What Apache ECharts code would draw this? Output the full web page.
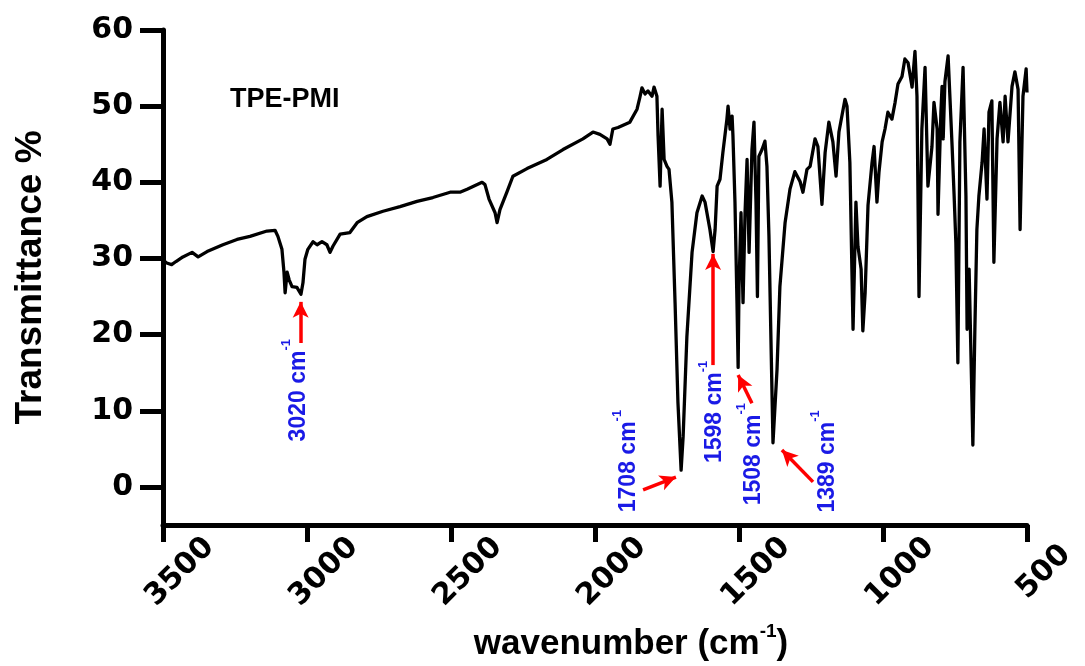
<!DOCTYPE html>
<html><head><meta charset="utf-8">
<script src="https://cdn.jsdelivr.net/npm/echarts@6/dist/echarts.min.js"></script>
<style>html,body{margin:0;padding:0;background:#fff}#c{width:1085px;height:666px}</style>
</head><body><div id="c"></div>
<script>
// FTIR spectrum of TPE-PMI
const wavenumbers = [3500,3487,3470,3455,3431,3399,3378,3347,3292,3243,3198,3139,3111,3101,3087,3080,3076,3069,3062,3052,3035,3021,3014,3007,2997,2979,2965,2948,2931,2920,2910,2885,2851,2826,2792,2736,2677,2618,2563,2503,2469,2444,2392,2382,2368,2347,2340,2330,2306,2285,2236,2167,2111,2042,2007,1983,1958,1948,1938,1920,1879,1854,1844,1837,1826,1816,1802,1795,1785,1781,1774,1767,1760,1750,1743,1733,1722,1712,1701,1694,1681,1663,1646,1628,1618,1601,1590,1583,1576,1566,1556,1542,1538,1531,1524,1521,1514,1507,1503,1500,1493,1486,1479,1472,1465,1455,1448,1441,1436,1431,1420,1410,1403,1396,1387,1382,1368,1358,1340,1323,1306,1288,1278,1264,1253,1236,1226,1212,1201,1188,1174,1163,1153,1132,1125,1115,1108,1104,1094,1087,1076,1070,1062,1052,1038,1031,1021,1014,1003,993,983,969,958,948,934,924,913,899,889,882,875,865,854,844,830,823,812,809,799,795,791,785,774,760,753,747,740,733,722,712,708,701,691,688,681,674,667,656,649,639,632,622,615,604,594,583,576,566,552,542,531,524,514,503,500];
const transmittance = [29.8,29.4,29.2,29.6,30.2,30.8,30.2,30.9,31.8,32.5,32.9,33.6,33.7,32.9,31.2,28.2,25.5,28.2,27.2,26.3,26.2,25.3,26.8,29.9,31.2,32.2,31.8,32.2,31.8,30.8,31.6,33.2,33.4,34.7,35.5,36.2,36.8,37.5,38.0,38.7,38.7,39.1,40.0,39.7,37.8,36.0,34.7,36.4,38.7,40.8,41.8,43.0,44.3,45.7,46.6,46.3,45.7,45.0,47.0,47.2,47.9,49.6,51.2,52.4,51.6,52.0,51.3,52.5,51.3,46.1,39.5,49.6,43.0,42.1,41.7,37.4,24.2,11.1,2.2,6.6,19.7,30.8,36.0,38.2,37.4,33.8,30.9,33.8,39.5,40.4,43.9,48.3,50.0,47.0,48.7,46.1,37.4,24.2,15.7,26.3,36.0,24.2,36.0,43.0,30.8,44.3,47.9,37.4,25.0,43.4,44.3,45.4,42.1,32.9,15.4,5.8,15.4,26.3,34.7,39.1,41.4,40.1,38.7,41.7,42.1,45.7,44.7,37.1,43.9,47.9,45.3,40.8,46.6,50.9,50.0,42.6,28.6,20.7,37.4,31.6,28.6,20.5,25.5,37.0,42.6,44.7,37.4,41.3,45.3,47.0,49.2,48.3,50.5,52.9,53.9,56.2,55.7,52.5,57.2,51.3,25.0,47.0,55.1,39.5,44.7,50.5,47.0,35.8,49.2,52.6,45.7,53.2,56.6,44.7,38.2,32.1,16.3,45.3,55.1,38.2,20.7,28.6,11.1,5.5,20.7,33.8,38.2,42.6,47.0,37.8,49.2,50.7,29.5,45.7,50.5,45.3,51.3,45.3,52.6,54.5,52.2,33.8,51.3,54.9,51.8];

const xTicks = [3500, 3000, 2500, 2000, 1500, 1000, 500];
const yTicks = [0, 10, 20, 30, 40, 50, 60];

const sampleName = 'TPE-PMI';
const peakLabels = ['3020', '1708', '1598', '1508', '1389'];
// label centre positions [wavenumber, transmittance]
const peakLabelPos = [[3042, 12.7], [1894, 3.4], [1595, 9.85], [1462, 4.3], [1205, 3.35]];
// arrows: [start, end] in data coordinates
const peakArrows = [
  [[3022, 18.9], [3022, 24.3]],
  [[1833, -0.4], [1719, 1.3]],
  [[1590, 16.0], [1590, 30.6]],
  [[1455, 11.0], [1503, 14.7]],
  [[1243, 0.66], [1351, 4.86]]
];

const chart = echarts.init(document.getElementById('c'), null, { renderer: 'canvas' });
const data = wavenumbers.map((w, i) => [w, transmittance[i]]);
const tickFont = { fontFamily: 'DejaVu Sans', fontWeight: 'bold', fontSize: 30, color: '#000', formatter: v => String(v) };

chart.setOption({
  animation: false,
  backgroundColor: '#fff',
  grid: { left: 163, right: 58, top: 30, bottom: 141, containLabel: false, outerBoundsMode: 'none' },
  xAxis: {
    type: 'value', min: 500, max: 3500, interval: 500, inverse: true,
    axisLine: { show: true, onZero: false, lineStyle: { color: '#000', width: 5 } },
    axisTick: { show: true, length: 17, customValues: xTicks, lineStyle: { color: '#000', width: 5 } },
    splitLine: { show: false },
    axisLabel: Object.assign({ customValues: xTicks, rotate: 45, align: 'center', verticalAlign: 'middle', margin: 64,
      padding: [0, 0, 0, 48], showMinLabel: true, showMaxLabel: true }, tickFont),
    name: '{a|wavenumber (cm}{s|-1}{a|)}', nameLocation: 'middle', nameGap: 97,
    nameTextStyle: {
      padding: [0, 0, 0, 72],
      rich: {
        a: { fontFamily: 'Liberation Sans', fontWeight: 'bold', fontSize: 35, lineHeight: 40, verticalAlign: 'bottom', color: '#000' },
        s: { fontFamily: 'Liberation Sans', fontWeight: 'bold', fontSize: 19, verticalAlign: 'top', color: '#000' }
      }
    }
  },
  yAxis: {
    type: 'value', min: -5, max: 60,
    axisLine: { show: true, onZero: false, lineStyle: { color: '#000', width: 5 } },
    axisTick: { show: true, length: 23, customValues: yTicks, lineStyle: { color: '#000', width: 5 } },
    splitLine: { show: false },
    axisLabel: Object.assign({ customValues: yTicks, margin: 30 }, tickFont),
    name: 'Transmittance %', nameLocation: 'middle', nameGap: 114,
    nameTextStyle: { fontFamily: 'Liberation Sans', fontWeight: 'bold', fontSize: 37, color: '#000' }
  },
  series: [{
    type: 'line', data: data, symbol: 'none', showSymbol: false, smooth: false,
    lineStyle: { color: '#000', width: 3.3, join: 'round' },
    markLine: {
      silent: true, animation: false,
      symbol: ['none', 'arrow'], symbolSize: [12, 16],
      lineStyle: { color: '#ff0000', width: 3.5, type: 'solid' },
      label: { show: false },
      emphasis: { disabled: true },
      data: peakArrows.map(a => [{ coord: a[0] }, { coord: a[1] }])
    }
  }]
});

const graphics = [{
  type: 'text', left: 230, top: 86,
  style: { text: sampleName, fontFamily: 'Liberation Sans', fontWeight: 'bold', fontSize: 27, fill: '#000' }
}];
peakLabels.forEach((lbl, i) => {
  const p = chart.convertToPixel({ xAxisIndex: 0, yAxisIndex: 0 }, peakLabelPos[i]);
  graphics.push({
    type: 'text', x: p[0], y: p[1], rotation: Math.PI / 2,
    style: {
      text: '{a|' + lbl + ' cm}{s|-1}', align: 'center', verticalAlign: 'middle',
      rich: {
        a: { fontFamily: 'Liberation Sans', fontWeight: 'bold', fontSize: 23, lineHeight: 30, verticalAlign: 'bottom', fill: '#1a1ae6' },
        s: { fontFamily: 'Liberation Sans', fontWeight: 'bold', fontSize: 13, verticalAlign: 'top', fill: '#1a1ae6' }
      }
    }
  });
});
chart.setOption({ graphic: graphics });
</script>
</body></html>
